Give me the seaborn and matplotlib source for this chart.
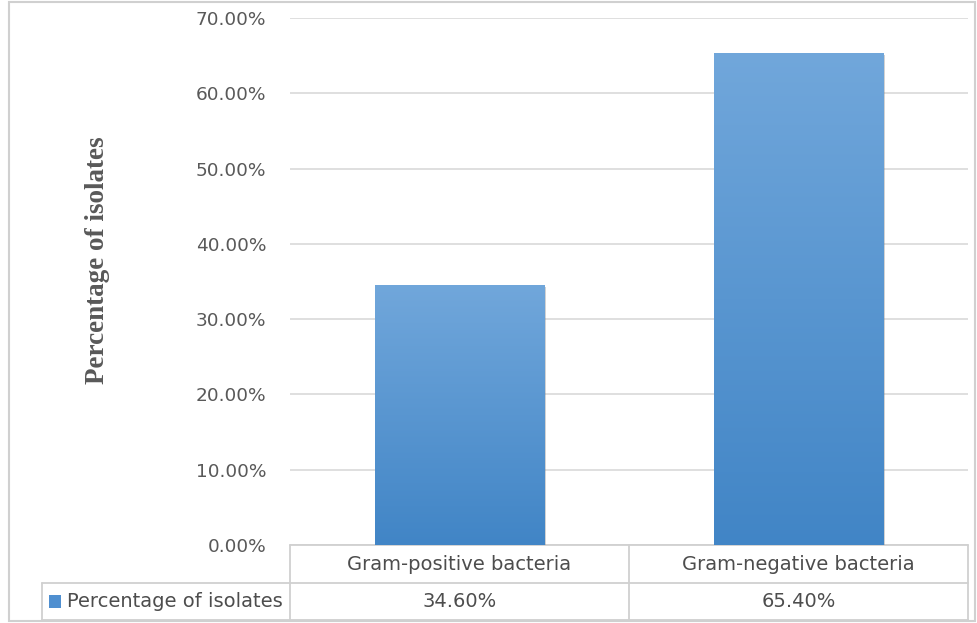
import numpy as np
import pandas as pd
import seaborn as sns
import matplotlib.pyplot as plt
from matplotlib.colors import LinearSegmentedColormap
from matplotlib.patches import Rectangle
from matplotlib.transforms import blended_transform_factory
import matplotlib.patheffects as pe

# data
categories = ["Gram-positive bacteria", "Gram-negative bacteria"]
percentages = [0.346, 0.654]
series_name = "Percentage of isolates"
yticks = [0.0, 0.1, 0.2, 0.3, 0.4, 0.5, 0.6, 0.7]

df = pd.DataFrame({"group": categories, "pct": percentages})

sns.set_style("white")
plt.rcParams["font.family"] = ["DejaVu Sans"]

W, H = 977, 623
fig = plt.figure(figsize=(W / 100, H / 100), dpi=100)
ax = fig.add_axes([290 / W, 78 / H, 678 / W, 527 / H])

sns.barplot(data=df, x="group", y="pct", color="#5b9bd5", width=0.5,
            saturation=1, ax=ax, zorder=3)

# gradient fill + soft shadow on the bars
grad = LinearSegmentedColormap.from_list("bar", ["#4185c6", "#71a7db"])
for p in ax.patches:
    x0, y0, w, h = p.get_x(), p.get_y(), p.get_width(), p.get_height()
    img = ax.imshow(np.linspace(0, 1, 256).reshape(-1, 1), cmap=grad, origin="lower",
                    extent=[x0, x0 + w, y0, y0 + h], aspect="auto", zorder=3.5)
    img.set_clip_path(p)
    p.set_edgecolor("none")
    p.set_path_effects([pe.SimplePatchShadow(offset=(1.5, -1.5), shadow_rgbFace="#808080", alpha=0.35),
                        pe.Normal()])

ax.set_xlim(-0.5, len(categories) - 0.5)
ax.set_ylim(0, 0.7)
ax.set_yticks(yticks)
ax.set_yticklabels([f"{v:.2%}" for v in yticks])
ax.yaxis.grid(True, color="#d9d9d9", lw=1.2)
ax.set_axisbelow(True)
for s in ax.spines.values():
    s.set_visible(False)
ax.tick_params(axis="y", length=0, pad=17, labelsize=13.3, labelcolor="#595959")
ax.set_xticks([])
ax.set_xlabel("")
ax.set_ylabel("")

fig.text(97 / W, 1 - 260 / H, series_name, rotation=90, ha="center", va="center",
         family=["Liberation Serif", "DejaVu Serif"], fontweight="bold", fontsize=19.5,
         color="#595959")

# data table under the axis
line_kw = dict(color="#d0d0d0", lw=1.3, clip_on=False, transform=ax.transAxes)
r1 = -38 / 527
r2 = -75 / 527
xl = (42 - 290) / 678
ax.plot([0, 1], [0, 0], **line_kw)
ax.plot([xl, 1], [r1, r1], **line_kw)
ax.plot([xl, 1], [r2, r2], **line_kw)
ax.plot([xl, xl], [r1, r2], **line_kw)
ax.plot([0, 0], [0, r2], **line_kw)
ax.plot([1, 1], [0, r2], **line_kw)

pos = [p.get_x() + p.get_width() / 2 for p in ax.patches]
mid = np.mean(pos)
bt = blended_transform_factory(ax.transData, ax.transAxes)
ax.plot([mid, mid], [0, r2], color="#d0d0d0", lw=1.3, clip_on=False, transform=bt)

for x, cat, v in zip(pos, categories, percentages):
    ax.text(x, r1 / 2, cat, transform=bt, ha="center", va="center", fontsize=14,
            color="#4d4d4d")
    ax.text(x, (r1 + r2) / 2, f"{v:.2%}", transform=bt, ha="center", va="center",
            fontsize=14, color="#4d4d4d")

ax.add_patch(Rectangle(((49 - 290) / 678, (r1 + r2) / 2 - 6.5 / 527), 12 / 678, 13 / 527,
                       transform=ax.transAxes, facecolor="#4f8fd0", edgecolor="none",
                       clip_on=False))
ax.text((67 - 290) / 678, (r1 + r2) / 2, series_name, transform=ax.transAxes,
        ha="left", va="center", fontsize=14, color="#4d4d4d")

# chart border
fig.patches.append(Rectangle((9 / W, 2 / H), 966 / W, 619 / H, transform=fig.transFigure,
                             facecolor="none", edgecolor="#d0d0d0", lw=1.5))

fig.savefig("out.png", dpi=100)
